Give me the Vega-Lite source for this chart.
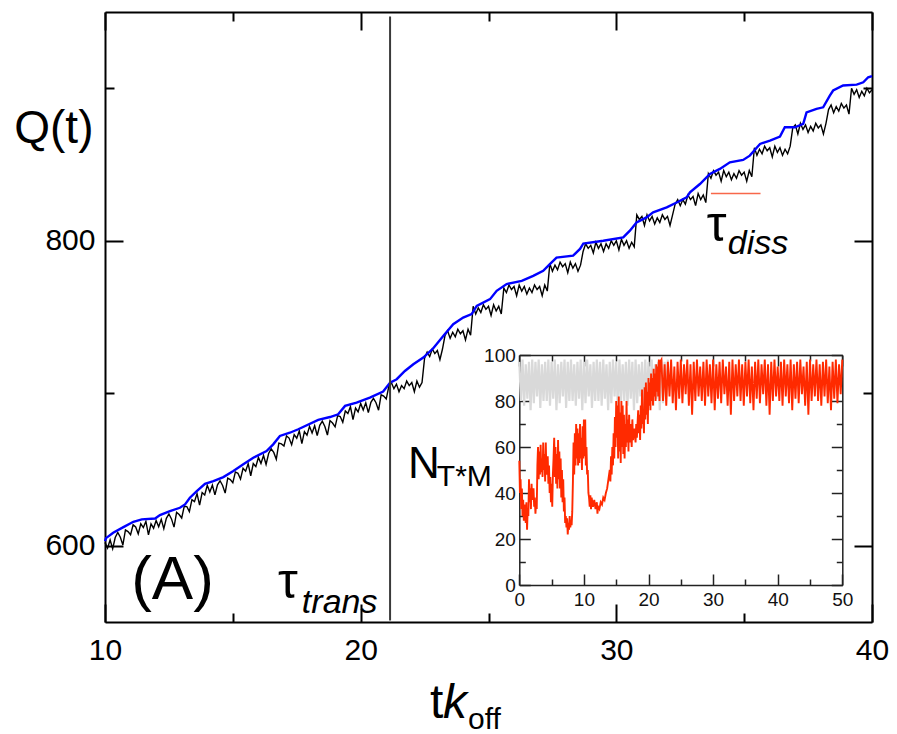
{
"$schema":"https://vega.github.io/schema/vega-lite/v6.json",
"width":767,"height":610,
"autosize":{"type":"none"},
"padding":{"left":105,"top":12,"right":25,"bottom":112},
"background":"white",
"config":{"view":{"stroke":null},"font":"Liberation Sans"},
"datasets":{
"blue":[{"t":10.0,"q":603},{"t":10.04,"q":605},{"t":10.32,"q":608.5},{"t":10.72,"q":612.2},{"t":11.11,"q":615.7},{"t":11.44,"q":617.3},{"t":11.96,"q":617.9},{"t":12.15,"q":620.1},{"t":12.54,"q":622.7},{"t":12.93,"q":624.9},{"t":13.13,"q":627.1},{"t":13.32,"q":631.5},{"t":13.59,"q":635.8},{"t":13.91,"q":640.6},{"t":14.24,"q":642.4},{"t":14.63,"q":645},{"t":15.02,"q":649},{"t":15.41,"q":653.4},{"t":15.8,"q":657.7},{"t":16.32,"q":662.1},{"t":16.58,"q":666.5},{"t":16.84,"q":672},{"t":17.23,"q":674.1},{"t":17.56,"q":676.4},{"t":18.34,"q":682.5},{"t":18.8,"q":684.4},{"t":19.12,"q":686.2},{"t":19.39,"q":691.7},{"t":19.84,"q":693.8},{"t":20.36,"q":697.1},{"t":20.88,"q":701.1},{"t":21.15,"q":707},{"t":21.41,"q":709.2},{"t":21.73,"q":714.6},{"t":22.06,"q":719},{"t":22.45,"q":723.4},{"t":22.84,"q":729.5},{"t":23.23,"q":737.6},{"t":23.62,"q":745.3},{"t":24.01,"q":749.6},{"t":24.34,"q":751.9},{"t":24.54,"q":757.3},{"t":25.06,"q":761.7},{"t":25.32,"q":767.2},{"t":25.71,"q":771.6},{"t":26.3,"q":773.7},{"t":26.75,"q":777},{"t":27.14,"q":780.3},{"t":27.4,"q":784.7},{"t":27.66,"q":789},{"t":28.31,"q":790.2},{"t":28.58,"q":794.6},{"t":28.71,"q":798.2},{"t":29.49,"q":800},{"t":30.27,"q":802.2},{"t":30.53,"q":806.6},{"t":30.79,"q":812},{"t":31.18,"q":815.3},{"t":31.44,"q":818.6},{"t":31.97,"q":821.9},{"t":32.36,"q":825.1},{"t":32.75,"q":828.4},{"t":32.88,"q":831.7},{"t":33.27,"q":837.2},{"t":33.66,"q":843.8},{"t":34.05,"q":847.1},{"t":34.44,"q":851.4},{"t":34.96,"q":853},{"t":35.22,"q":855.8},{"t":35.62,"q":863.5},{"t":36.01,"q":865.7},{"t":36.4,"q":868.3},{"t":36.59,"q":874.4},{"t":36.98,"q":874.4},{"t":37.31,"q":876.6},{"t":37.44,"q":884.2},{"t":37.83,"q":886.5},{"t":38.09,"q":887.5},{"t":38.35,"q":895.2},{"t":38.48,"q":898.5},{"t":38.87,"q":901.8},{"t":39.4,"q":902.4},{"t":39.66,"q":903.9},{"t":39.85,"q":907.2},{"t":40.0,"q":908}],
"black":[{"t":10.0,"q":602.2},{"t":10.1,"q":598.5},{"t":10.2,"q":603.8},{"t":10.3,"q":598.1},{"t":10.4,"q":605.4},{"t":10.5,"q":608.7},{"t":10.6,"q":605.6},{"t":10.7,"q":600.5},{"t":10.8,"q":610.4},{"t":10.9,"q":609.3},
{"t":11.0,"q":607.2},{"t":11.1,"q":613.7},{"t":11.2,"q":612.3},{"t":11.3,"q":607.8},{"t":11.4,"q":614.4},{"t":11.5,"q":611.9},{"t":11.6,"q":616},{"t":11.7,"q":607.2},{"t":11.8,"q":614.3},{"t":11.9,"q":611.5},
{"t":12.0,"q":616.6},{"t":12.1,"q":612.5},{"t":12.2,"q":617.3},{"t":12.3,"q":611.2},{"t":12.4,"q":618},{"t":12.5,"q":620.9},{"t":12.6,"q":617.6},{"t":12.7,"q":612.2},{"t":12.8,"q":621.9},{"t":12.9,"q":620.5},
{"t":13.0,"q":618.2},{"t":13.1,"q":625.9},{"t":13.2,"q":625.7},{"t":13.3,"q":622.4},{"t":13.4,"q":630.2},{"t":13.5,"q":628.9},{"t":13.6,"q":634.2},{"t":13.7,"q":626.6},{"t":13.8,"q":634.9},{"t":13.9,"q":633.3},
{"t":14.0,"q":639.6},{"t":14.1,"q":635.2},{"t":14.2,"q":639.8},{"t":14.3,"q":633.4},{"t":14.4,"q":640},{"t":14.5,"q":642.6},{"t":14.6,"q":639.5},{"t":14.7,"q":634.5},{"t":14.8,"q":644.4},{"t":14.9,"q":643.4},
{"t":15.0,"q":641.3},{"t":15.1,"q":648.4},{"t":15.2,"q":647.5},{"t":15.3,"q":643.7},{"t":15.4,"q":650.8},{"t":15.5,"q":648.9},{"t":15.6,"q":653.9},{"t":15.7,"q":645.9},{"t":15.8,"q":653.9},{"t":15.9,"q":651.9},
{"t":16.0,"q":657.9},{"t":16.1,"q":654},{"t":16.2,"q":659.2},{"t":16.3,"q":653.3},{"t":16.4,"q":660.5},{"t":16.5,"q":663.6},{"t":16.6,"q":661.2},{"t":16.7,"q":656.7},{"t":16.8,"q":667.3},{"t":16.9,"q":666.8},
{"t":17.0,"q":665.4},{"t":17.1,"q":672},{"t":17.2,"q":670.6},{"t":17.3,"q":666.3},{"t":17.4,"q":672.9},{"t":17.5,"q":670.5},{"t":17.6,"q":675.3},{"t":17.7,"q":667},{"t":17.8,"q":674.8},{"t":17.9,"q":672.5},
{"t":18.0,"q":678.3},{"t":18.1,"q":674},{"t":18.2,"q":678.7},{"t":18.3,"q":672.3},{"t":18.4,"q":679},{"t":18.5,"q":681.7},{"t":18.6,"q":678.2},{"t":18.7,"q":672.6},{"t":18.8,"q":682.1},{"t":18.9,"q":680.5},
{"t":19.0,"q":678},{"t":19.1,"q":685.3},{"t":19.2,"q":684.7},{"t":19.3,"q":681},{"t":19.4,"q":688.4},{"t":19.5,"q":686.7},{"t":19.6,"q":691.2},{"t":19.7,"q":682.7},{"t":19.8,"q":690.3},{"t":19.9,"q":687.8},
{"t":20.0,"q":693.3},{"t":20.1,"q":689},{"t":20.2,"q":693.7},{"t":20.3,"q":687.3},{"t":20.4,"q":694},{"t":20.5,"q":696.7},{"t":20.6,"q":693.8},{"t":20.7,"q":688.9},{"t":20.8,"q":699},{"t":20.9,"q":698.1},
{"t":21.0,"q":696.2},{"t":21.1,"q":704.4},
{"t":21.2,"q":707},{"t":21.3,"q":703},{"t":21.4,"q":706},{"t":21.5,"q":701},{"t":21.6,"q":705},{"t":21.7,"q":703},{"t":21.8,"q":708},{"t":21.9,"q":705},{"t":22.0,"q":707},{"t":22.1,"q":701},{"t":22.2,"q":708},{"t":22.3,"q":704},{"t":22.4,"q":707},
{"t":22.5,"q":723},{"t":22.6,"q":727},{"t":22.7,"q":724},{"t":22.8,"q":729},{"t":22.9,"q":726},{"t":23.0,"q":728},{"t":23.1,"q":722},{"t":23.2,"q":729},
{"t":23.3,"q":738},{"t":23.4,"q":741},{"t":23.5,"q":736},{"t":23.6,"q":740},{"t":23.7,"q":737},{"t":23.8,"q":742},{"t":23.9,"q":739},{"t":24.0,"q":741},{"t":24.1,"q":735},{"t":24.2,"q":742},{"t":24.3,"q":738},
{"t":24.4,"q":757},{"t":24.5,"q":752},{"t":24.6,"q":756},{"t":24.7,"q":753},{"t":24.8,"q":758},{"t":24.9,"q":755},{"t":25.0,"q":757},{"t":25.1,"q":751},{"t":25.2,"q":758},{"t":25.3,"q":754},{"t":25.4,"q":757},{"t":25.5,"q":752},
{"t":25.6,"q":769},{"t":25.7,"q":766},{"t":25.8,"q":771},{"t":25.9,"q":768},{"t":26.0,"q":770},{"t":26.1,"q":764},{"t":26.2,"q":771},{"t":26.3,"q":767},{"t":26.4,"q":770},{"t":26.5,"q":765},{"t":26.6,"q":769},{"t":26.7,"q":766},{"t":26.8,"q":771},{"t":26.9,"q":768},{"t":27.0,"q":770},{"t":27.1,"q":764},{"t":27.2,"q":771},{"t":27.3,"q":767},
{"t":27.4,"q":785},{"t":27.5,"q":780},{"t":27.6,"q":784},{"t":27.7,"q":781},{"t":27.8,"q":786},{"t":27.9,"q":783},{"t":28.0,"q":785},{"t":28.1,"q":779},{"t":28.2,"q":786},{"t":28.3,"q":782},{"t":28.4,"q":785},{"t":28.5,"q":780},{"t":28.6,"q":784},
{"t":28.7,"q":793},{"t":28.8,"q":798},{"t":28.9,"q":795},{"t":29.0,"q":797},{"t":29.1,"q":792},{"t":29.2,"q":799},{"t":29.3,"q":795},{"t":29.4,"q":798},{"t":29.5,"q":793},{"t":29.6,"q":798},{"t":29.7,"q":795},{"t":29.8,"q":800},{"t":29.9,"q":797},{"t":30.0,"q":800},{"t":30.1,"q":794},{"t":30.2,"q":801},{"t":30.3,"q":797},{"t":30.4,"q":800},{"t":30.5,"q":795},{"t":30.6,"q":799},{"t":30.7,"q":796},
{"t":30.8,"q":817},{"t":30.9,"q":814},{"t":31.0,"q":816},{"t":31.1,"q":810},{"t":31.2,"q":817},{"t":31.3,"q":813},{"t":31.4,"q":816},{"t":31.5,"q":811},{"t":31.6,"q":815},{"t":31.7,"q":812},{"t":31.8,"q":817},{"t":31.9,"q":814},{"t":32.0,"q":816},{"t":32.1,"q":810},{"t":32.2,"q":817},
{"t":32.3,"q":824},{"t":32.4,"q":827},{"t":32.5,"q":823},{"t":32.6,"q":827},{"t":32.7,"q":824},{"t":32.8,"q":830},{"t":32.9,"q":827},{"t":33.0,"q":829},{"t":33.1,"q":823},{"t":33.2,"q":831},{"t":33.3,"q":827},{"t":33.4,"q":830},{"t":33.5,"q":825},
{"t":33.6,"q":844},{"t":33.7,"q":841},{"t":33.8,"q":846},{"t":33.9,"q":843},{"t":34.0,"q":845},{"t":34.1,"q":839},{"t":34.2,"q":846},{"t":34.3,"q":842},{"t":34.4,"q":845},{"t":34.5,"q":840},{"t":34.6,"q":844},{"t":34.7,"q":841},{"t":34.8,"q":846},{"t":34.9,"q":843},{"t":35.0,"q":845},{"t":35.1,"q":839},{"t":35.2,"q":846},{"t":35.3,"q":842},
{"t":35.4,"q":861},{"t":35.5,"q":856},{"t":35.6,"q":860},{"t":35.7,"q":857},{"t":35.8,"q":862},{"t":35.9,"q":859},{"t":36.0,"q":861},{"t":36.1,"q":855},{"t":36.2,"q":862},{"t":36.3,"q":858},{"t":36.4,"q":861},{"t":36.5,"q":856},{"t":36.6,"q":860},{"t":36.7,"q":857},{"t":36.8,"q":862},
{"t":36.9,"q":874},{"t":37.0,"q":876},{"t":37.1,"q":870},{"t":37.2,"q":877},{"t":37.3,"q":873},{"t":37.4,"q":876},{"t":37.5,"q":871},{"t":37.6,"q":875},{"t":37.7,"q":872},{"t":37.8,"q":877},{"t":37.9,"q":874},{"t":38.0,"q":876},{"t":38.1,"q":870},{"t":38.2,"q":877},
{"t":38.3,"q":886},{"t":38.4,"q":889},{"t":38.5,"q":884},{"t":38.6,"q":888},{"t":38.7,"q":885},{"t":38.8,"q":890},{"t":38.9,"q":887},{"t":39.0,"q":889},{"t":39.1,"q":883},
{"t":39.2,"q":900},{"t":39.3,"q":896},{"t":39.4,"q":899},{"t":39.5,"q":894},{"t":39.6,"q":898},{"t":39.7,"q":895},{"t":39.8,"q":900},{"t":39.9,"q":897},{"t":40.0,"q":899}],
"gray":[{"t":0,"n":97},{"t":0.25,"n":80},{"t":0.5,"n":98},{"t":0.75,"n":78},{"t":1,"n":96},{"t":1.25,"n":81},{"t":1.5,"n":97},{"t":1.75,"n":76},{"t":2,"n":98},{"t":2.25,"n":79},{"t":2.5,"n":97},{"t":2.75,"n":82},{"t":3,"n":98},{"t":3.25,"n":77},{"t":3.5,"n":96},{"t":3.75,"n":80},{"t":4,"n":97},{"t":4.25,"n":80},{"t":4.5,"n":98},{"t":4.75,"n":78},{"t":5,"n":97},{"t":5.25,"n":81},{"t":5.5,"n":98},{"t":5.75,"n":76},{"t":6,"n":96},{"t":6.25,"n":79},{"t":6.5,"n":97},{"t":6.75,"n":82},{"t":7,"n":98},{"t":7.25,"n":77},{"t":7.5,"n":97},{"t":7.75,"n":80},{"t":8,"n":98},{"t":8.25,"n":80},{"t":8.5,"n":96},{"t":8.75,"n":78},{"t":9,"n":97},{"t":9.25,"n":81},{"t":9.5,"n":98},{"t":9.75,"n":76},{"t":10,"n":97},{"t":10.25,"n":79},{"t":10.5,"n":98},{"t":10.75,"n":82},{"t":11,"n":96},{"t":11.25,"n":77},{"t":11.5,"n":97},{"t":11.75,"n":80},{"t":12,"n":98},{"t":12.25,"n":80},{"t":12.5,"n":97},{"t":12.75,"n":78},{"t":13,"n":98},{"t":13.25,"n":81},{"t":13.5,"n":96},{"t":13.75,"n":76},{"t":14,"n":97},{"t":14.25,"n":79},{"t":14.5,"n":98},{"t":14.75,"n":82},{"t":15,"n":97},{"t":15.25,"n":77},{"t":15.5,"n":98},{"t":15.75,"n":80},{"t":16,"n":96},{"t":16.25,"n":80},{"t":16.5,"n":97},{"t":16.75,"n":78},{"t":17,"n":98},{"t":17.25,"n":81},{"t":17.5,"n":97},{"t":17.75,"n":76},{"t":18,"n":98},{"t":18.25,"n":79},{"t":18.5,"n":96},{"t":18.75,"n":82},{"t":19,"n":97},{"t":19.25,"n":77},{"t":19.5,"n":98},{"t":19.75,"n":80},{"t":20,"n":97},{"t":20.25,"n":80},{"t":20.5,"n":98},{"t":20.75,"n":78},{"t":21,"n":96},{"t":21.25,"n":81},{"t":21.5,"n":97},{"t":21.75,"n":76},{"t":22,"n":98},{"t":22.25,"n":79},{"t":22.5,"n":97},{"t":22.75,"n":82},{"t":23,"n":98}],
"red":[{"t":0,"n":54},{"t":0.1,"n":40},{"t":0.2,"n":46},{"t":0.3,"n":33},{"t":0.4,"n":42},{"t":0.5,"n":30},{"t":0.6,"n":37},{"t":0.7,"n":28},{"t":0.8,"n":35},{"t":0.9,"n":30},{"t":1.0,"n":27},{"t":1.1,"n":36},{"t":1.2,"n":24},{"t":1.3,"n":33},{"t":1.4,"n":30},{"t":1.5,"n":46},{"t":1.6,"n":36},{"t":1.7,"n":42},{"t":1.8,"n":33},{"t":1.9,"n":44},{"t":2.0,"n":37},{"t":2.2,"n":42},{"t":2.3,"n":34},{"t":2.4,"n":38},{"t":2.5,"n":31},{"t":2.6,"n":36},{"t":2.7,"n":33},{"t":2.8,"n":52},{"t":2.9,"n":60},{"t":3.0,"n":46},{"t":3.1,"n":58},{"t":3.2,"n":48},{"t":3.3,"n":61},{"t":3.4,"n":49},{"t":3.5,"n":55},{"t":3.6,"n":47},{"t":3.7,"n":62},{"t":3.8,"n":50},{"t":3.9,"n":57},{"t":4.0,"n":45},{"t":4.1,"n":62},{"t":4.2,"n":48},{"t":4.4,"n":56},{"t":4.5,"n":44},{"t":4.6,"n":52},{"t":4.7,"n":40},{"t":4.8,"n":47},{"t":4.9,"n":36},{"t":5.0,"n":44},{"t":5.1,"n":34},{"t":5.2,"n":48},{"t":5.3,"n":55},{"t":5.4,"n":64},{"t":5.5,"n":47},{"t":5.6,"n":60},{"t":5.7,"n":44},{"t":5.8,"n":57},{"t":5.9,"n":42},{"t":6.0,"n":63},{"t":6.1,"n":46},{"t":6.2,"n":58},{"t":6.3,"n":42},{"t":6.4,"n":55},{"t":6.5,"n":38},{"t":6.6,"n":50},{"t":6.7,"n":36},{"t":6.8,"n":46},{"t":6.9,"n":32},{"t":7.0,"n":38},{"t":7.1,"n":27},{"t":7.2,"n":30},{"t":7.3,"n":25},{"t":7.4,"n":29},{"t":7.5,"n":22},{"t":7.6,"n":27},{"t":7.7,"n":24},{"t":7.8,"n":30},{"t":7.9,"n":25},{"t":8.0,"n":28},{"t":8.1,"n":26},{"t":8.2,"n":32},{"t":8.3,"n":45},{"t":8.4,"n":62},{"t":8.5,"n":48},{"t":8.6,"n":66},{"t":8.7,"n":52},{"t":8.8,"n":70},{"t":8.9,"n":55},{"t":9.0,"n":68},{"t":9.1,"n":52},{"t":9.2,"n":66},{"t":9.3,"n":53},{"t":9.4,"n":70},{"t":9.5,"n":55},{"t":9.6,"n":64},{"t":9.7,"n":50},{"t":9.8,"n":69},{"t":9.9,"n":55},{"t":10.0,"n":72},{"t":10.1,"n":56},{"t":10.2,"n":72},{"t":10.3,"n":52},{"t":10.4,"n":60},{"t":10.5,"n":48},{"t":10.6,"n":50},{"t":10.7,"n":40},{"t":10.8,"n":38},{"t":10.9,"n":34},{"t":11.0,"n":39},{"t":11.1,"n":33},{"t":11.2,"n":38},{"t":11.4,"n":34},{"t":11.6,"n":37},{"t":11.8,"n":33},{"t":12.0,"n":36},{"t":12.1,"n":31},{"t":12.2,"n":34},{"t":12.4,"n":33},{"t":12.6,"n":36},{"t":12.8,"n":35},{"t":13.0,"n":38},{"t":13.2,"n":37},{"t":13.4,"n":40},{"t":13.6,"n":42},{"t":13.8,"n":46},{"t":14.0,"n":50},{"t":14.1,"n":45},{"t":14.2,"n":56},{"t":14.3,"n":48},{"t":14.4,"n":60},{"t":14.5,"n":52},{"t":14.6,"n":66},{"t":14.7,"n":55},{"t":14.8,"n":73},{"t":14.9,"n":60},{"t":15.0,"n":80},{"t":15.1,"n":64},{"t":15.2,"n":78},{"t":15.3,"n":55},{"t":15.4,"n":82},{"t":15.5,"n":58},{"t":15.6,"n":75},{"t":15.7,"n":53},{"t":15.8,"n":80},{"t":15.9,"n":60},{"t":16.0,"n":78},{"t":16.1,"n":57},{"t":16.2,"n":74},{"t":16.3,"n":55},{"t":16.4,"n":70},{"t":16.5,"n":60},{"t":16.6,"n":80},{"t":16.7,"n":62},{"t":16.8,"n":72},{"t":16.9,"n":58},{"t":17.0,"n":74},{"t":17.1,"n":62},{"t":17.2,"n":70},{"t":17.4,"n":60},{"t":17.5,"n":72},{"t":17.6,"n":63},{"t":17.8,"n":68},{"t":18.0,"n":62},{"t":18.1,"n":70},{"t":18.2,"n":64},{"t":18.4,"n":76},{"t":18.5,"n":66},{"t":18.6,"n":74},{"t":18.7,"n":63},{"t":18.8,"n":78},{"t":18.9,"n":68},{"t":19.0,"n":85},{"t":19.1,"n":70},{"t":19.2,"n":76},{"t":19.3,"n":66},{"t":19.4,"n":86},{"t":19.5,"n":72},{"t":19.6,"n":88},{"t":19.7,"n":74},{"t":19.8,"n":84},{"t":19.9,"n":70},{"t":20.0,"n":90},{"t":20.1,"n":78},{"t":20.2,"n":88},{"t":20.3,"n":76},{"t":20.4,"n":92},{"t":20.5,"n":80},{"t":20.6,"n":90},{"t":20.7,"n":78},{"t":20.8,"n":94},{"t":20.9,"n":82},{"t":21.0,"n":92},{"t":21.1,"n":80},{"t":21.2,"n":96},{"t":21.3,"n":84},{"t":21.4,"n":95},{"t":21.5,"n":82},{"t":21.6,"n":98},{"t":21.7,"n":80},{"t":21.8,"n":97},
{"t":22.0,"n":98},{"t":22.25,"n":80},{"t":22.5,"n":96},{"t":22.75,"n":78},{"t":23.0,"n":97},{"t":23.25,"n":82},{"t":23.5,"n":98},{"t":23.75,"n":79},{"t":24.0,"n":95},{"t":24.25,"n":76},{"t":24.5,"n":97},{"t":24.75,"n":81},{"t":25.0,"n":98},{"t":25.25,"n":79},{"t":25.5,"n":96},{"t":25.75,"n":83},{"t":26.0,"n":98},{"t":26.25,"n":78},{"t":26.5,"n":96},{"t":26.75,"n":74},{"t":27.0,"n":97},{"t":27.25,"n":80},{"t":27.5,"n":98},{"t":27.75,"n":82},{"t":28.0,"n":95},{"t":28.25,"n":80},{"t":28.5,"n":97},{"t":28.75,"n":78},{"t":29.0,"n":98},{"t":29.25,"n":82},{"t":29.5,"n":96},{"t":29.75,"n":79},{"t":30.0,"n":98},{"t":30.25,"n":76},{"t":30.5,"n":96},{"t":30.75,"n":81},{"t":31.0,"n":97},{"t":31.25,"n":79},{"t":31.5,"n":98},{"t":31.75,"n":83},{"t":32.0,"n":95},{"t":32.25,"n":78},{"t":32.5,"n":97},{"t":32.75,"n":74},{"t":33.0,"n":98},{"t":33.25,"n":80},{"t":33.5,"n":96},{"t":33.75,"n":82},{"t":34.0,"n":98},{"t":34.25,"n":80},{"t":34.5,"n":96},{"t":34.75,"n":78},{"t":35.0,"n":97},{"t":35.25,"n":82},{"t":35.5,"n":98},{"t":35.75,"n":79},{"t":36.0,"n":95},{"t":36.25,"n":76},{"t":36.5,"n":97},{"t":36.75,"n":81},{"t":37.0,"n":98},{"t":37.25,"n":79},{"t":37.5,"n":96},{"t":37.75,"n":83},{"t":38.0,"n":98},{"t":38.25,"n":78},{"t":38.5,"n":96},{"t":38.75,"n":74},{"t":39.0,"n":97},{"t":39.25,"n":80},{"t":39.5,"n":98},{"t":39.75,"n":82},{"t":40.0,"n":95},{"t":40.25,"n":80},{"t":40.5,"n":97},{"t":40.75,"n":78},{"t":41.0,"n":98},{"t":41.25,"n":82},{"t":41.5,"n":96},{"t":41.75,"n":79},{"t":42.0,"n":98},{"t":42.25,"n":76},{"t":42.5,"n":96},{"t":42.75,"n":81},{"t":43.0,"n":97},{"t":43.25,"n":79},{"t":43.5,"n":98},{"t":43.75,"n":83},{"t":44.0,"n":95},{"t":44.25,"n":78},{"t":44.5,"n":97},{"t":44.75,"n":74},{"t":45.0,"n":98},{"t":45.25,"n":80},{"t":45.5,"n":96},{"t":45.75,"n":82},{"t":46.0,"n":98},{"t":46.25,"n":80},{"t":46.5,"n":96},{"t":46.75,"n":78},{"t":47.0,"n":97},{"t":47.25,"n":82},{"t":47.5,"n":98},{"t":47.75,"n":79},{"t":48.0,"n":95},{"t":48.25,"n":76},{"t":48.5,"n":97},{"t":48.75,"n":81},{"t":49.0,"n":98},{"t":49.25,"n":79},{"t":49.5,"n":96},{"t":49.75,"n":83},{"t":50.0,"n":98}]
},
"layer":[
{"layer":[
 {"data":{"name":"black"},"mark":{"type":"line","color":"black","strokeWidth":1.4},
  "encoding":{
   "x":{"field":"t","type":"quantitative","scale":{"domain":[10,40],"nice":false,"zero":false},
        "axis":{"orient":"bottom","title":null,"grid":false,"values":[10,15,20,25,30,35,40],
                "labelExpr":"datum.value % 10 === 0 ? datum.label : ''",
                "tickSize":{"condition":{"test":"datum.value % 10 === 0","value":-18},"value":-9},
                "labelPadding":31,"labelFontSize":30,"labelFont":"Liberation Sans","labelColor":"black",
                "labelFlush":false,"labelOverlap":false,"domainColor":"black","domainWidth":2,"tickColor":"black","tickWidth":2}},
   "y":{"field":"q","type":"quantitative","scale":{"domain":[550,950],"nice":false,"zero":false},
        "axis":{"orient":"left","title":null,"grid":false,"values":[600,700,800,900],
                "labelExpr":"datum.value % 200 === 0 ? datum.label : ''",
                "tickSize":{"condition":{"test":"datum.value % 200 === 0","value":-18},"value":-9},
                "labelPadding":28,"labelFontSize":30,"labelFont":"Liberation Sans","labelColor":"black",
                "labelFlush":false,"labelOverlap":false,"domainColor":"black","domainWidth":2,"tickColor":"black","tickWidth":2}}}},
 {"data":{"name":"blue"},"mark":{"type":"line","color":"#0000ff","strokeWidth":2.4},
  "encoding":{"x":{"field":"t","type":"quantitative"},"y":{"field":"q","type":"quantitative"}}},
 {"data":{"values":[{}]},"mark":{"type":"rule","color":"#3a3a3a","strokeWidth":2},
  "encoding":{"x":{"datum":21.15,"type":"quantitative"},"y":{"datum":551,"type":"quantitative"},"y2":{"datum":947}}},
 {"data":{"values":[{}]},"mark":{"type":"rule","color":"#f8674a","strokeWidth":1.5},
  "encoding":{"x":{"datum":33.7,"type":"quantitative"},"x2":{"datum":35.64},"y":{"datum":831,"type":"quantitative"}}},
 {"data":{"values":[{}]},"mark":{"type":"text","text":"Q(t)","font":"Liberation Sans","fontSize":46,"align":"center","baseline":"alphabetic","color":"black"},
  "encoding":{"x":{"datum":8.0,"type":"quantitative"},"y":{"datum":864.3,"type":"quantitative"}}},
 {"data":{"values":[{}]},"mark":{"type":"text","text":"(A)","font":"Liberation Sans","fontSize":62,"align":"center","baseline":"alphabetic","color":"black"},
  "encoding":{"x":{"datum":12.64,"type":"quantitative"},"y":{"datum":564.9,"type":"quantitative"}}},
 {"data":{"values":[{}]},"mark":{"type":"text","text":"τ","font":"Liberation Sans","fontSize":50,"align":"left","baseline":"alphabetic","color":"black"},
  "encoding":{"x":{"datum":16.77,"type":"quantitative"},"y":{"datum":565.6,"type":"quantitative"}}},
 {"data":{"values":[{}]},"mark":{"type":"text","text":"trans","font":"Liberation Sans","fontSize":34,"fontStyle":"italic","align":"left","baseline":"alphabetic","color":"black"},
  "encoding":{"x":{"datum":17.7,"type":"quantitative"},"y":{"datum":555.7,"type":"quantitative"}}},
 {"data":{"values":[{}]},"mark":{"type":"text","text":"τ","font":"Liberation Sans","fontSize":50,"align":"left","baseline":"alphabetic","color":"black"},
  "encoding":{"x":{"datum":33.54,"type":"quantitative"},"y":{"datum":800,"type":"quantitative"}}},
 {"data":{"values":[{}]},"mark":{"type":"text","text":"diss","font":"Liberation Sans","fontSize":34,"fontStyle":"italic","align":"left","baseline":"alphabetic","color":"black"},
  "encoding":{"x":{"datum":34.36,"type":"quantitative"},"y":{"datum":791.5,"type":"quantitative"}}},
 {"data":{"values":[{}]},"mark":{"type":"text","text":"N","font":"Liberation Sans","fontSize":44,"align":"left","baseline":"alphabetic","color":"black"},
  "encoding":{"x":{"datum":21.85,"type":"quantitative"},"y":{"datum":644.4,"type":"quantitative"}}},
 {"data":{"values":[{}]},"mark":{"type":"text","text":"T*M","font":"Liberation Sans","fontSize":30,"align":"left","baseline":"alphabetic","color":"black"},
  "encoding":{"x":{"datum":22.98,"type":"quantitative"},"y":{"datum":639.1,"type":"quantitative"}}},
 {"data":{"values":[{}]},"mark":{"type":"text","text":"t","font":"Liberation Sans","fontSize":48,"align":"left","baseline":"alphabetic","color":"black"},
  "encoding":{"x":{"datum":22.71,"type":"quantitative"},"y":{"datum":486.8,"type":"quantitative"}}},
 {"data":{"values":[{}]},"mark":{"type":"text","text":"k","font":"Liberation Sans","fontSize":48,"fontStyle":"italic","align":"left","baseline":"alphabetic","color":"black"},
  "encoding":{"x":{"datum":23.22,"type":"quantitative"},"y":{"datum":486.8,"type":"quantitative"}}},
 {"data":{"values":[{}]},"mark":{"type":"text","text":"off","font":"Liberation Sans","fontSize":30,"align":"left","baseline":"alphabetic","color":"black"},
  "encoding":{"x":{"datum":24.2,"type":"quantitative"},"y":{"datum":479.6,"type":"quantitative"}}}
]},
{"data":{"name":"blue"},"mark":{"type":"line","opacity":0},
 "encoding":{
  "x":{"field":"t","type":"quantitative","scale":{"domain":[10,40],"nice":false,"zero":false},
       "axis":{"orient":"top","title":null,"grid":false,"labels":false,"values":[10,15,20,25,30,35,40],
               "tickSize":{"condition":{"test":"datum.value % 10 === 0","value":-18},"value":-9},
               "domainColor":"black","domainWidth":2,"tickColor":"black","tickWidth":2}},
  "y":{"field":"q","type":"quantitative","scale":{"domain":[550,950],"nice":false,"zero":false},
       "axis":{"orient":"right","title":null,"grid":false,"labels":false,"values":[600,700,800,900],
               "tickSize":{"condition":{"test":"datum.value % 200 === 0","value":-18},"value":-9},
               "domainColor":"black","domainWidth":2,"tickColor":"black","tickWidth":2}}}},
{"layer":[
 {"data":{"name":"gray"},"mark":{"type":"line","color":"#d9d9d9","strokeWidth":2.2},
  "encoding":{
   "x":{"field":"t","type":"quantitative","scale":{"domain":[0,50],"range":[414.3,737.3],"nice":false,"zero":false},
        "axis":{"orient":"bottom","offset":-37,"title":null,"grid":false,"values":[0,5,10,15,20,25,30,35,40,45,50],
                "labelExpr":"datum.value % 10 === 0 ? datum.label : ''",
                "tickSize":{"condition":{"test":"datum.value % 10 === 0","value":-11},"value":-6},
                "labelPadding":16,"labelFontSize":19,"labelFont":"Liberation Sans","labelColor":"#111",
                "labelFlush":false,"labelOverlap":false,"domainColor":"#222","domainWidth":1.5,"tickColor":"#222","tickWidth":1.5}},
   "y":{"field":"n","type":"quantitative","scale":{"domain":[0,100],"range":[573,343],"nice":false,"zero":false},
        "axis":{"orient":"left","offset":-414.3,"title":null,"grid":false,"values":[0,10,20,30,40,50,60,70,80,90,100],
                "labelExpr":"datum.value % 20 === 0 ? datum.label : ''",
                "tickSize":{"condition":{"test":"datum.value % 20 === 0","value":-11},"value":-6},
                "labelPadding":15,"labelFontSize":19,"labelFont":"Liberation Sans","labelColor":"#111",
                "labelFlush":false,"labelOverlap":false,"domainColor":"#222","domainWidth":1.5,"tickColor":"#222","tickWidth":1.5}}}},
 {"data":{"name":"red"},"mark":{"type":"line","color":"#ff2a00","strokeWidth":1.9},
  "encoding":{"x":{"field":"t","type":"quantitative"},"y":{"field":"n","type":"quantitative"}}}
]},
{"data":{"name":"gray"},"mark":{"type":"line","opacity":0},
 "encoding":{
  "x":{"field":"t","type":"quantitative","scale":{"domain":[0,50],"range":[414.3,737.3],"nice":false,"zero":false},
       "axis":{"orient":"top","offset":-343,"title":null,"grid":false,"labels":false,"values":[0,5,10,15,20,25,30,35,40,45,50],
               "tickSize":{"condition":{"test":"datum.value % 10 === 0","value":-11},"value":-6},
               "domainColor":"#222","domainWidth":1.5,"tickColor":"#222","tickWidth":1.5}},
  "y":{"field":"n","type":"quantitative","scale":{"domain":[0,100],"range":[573,343],"nice":false,"zero":false},
       "axis":{"orient":"right","offset":-29.7,"title":null,"grid":false,"labels":false,"values":[0,10,20,30,40,50,60,70,80,90,100],
               "tickSize":{"condition":{"test":"datum.value % 20 === 0","value":-11},"value":-6},
               "domainColor":"#222","domainWidth":1.5,"tickColor":"#222","tickWidth":1.5}}}}
],
"resolve":{"scale":{"x":"independent","y":"independent"},"axis":{"x":"independent","y":"independent"}}
}
